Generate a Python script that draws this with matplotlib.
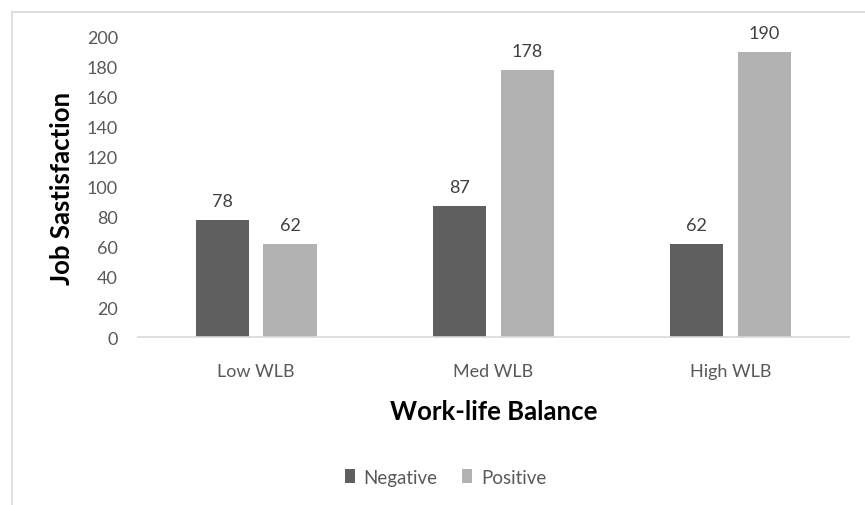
import numpy as np
import matplotlib.pyplot as plt
from matplotlib.lines import Line2D

plt.rcParams['font.family'] = ['Lato', 'DejaVu Sans']

# data
categories = ["Low WLB", "Med WLB", "High WLB"]
negative = [78, 87, 62]
positive = [62, 178, 190]
series_names = ["Negative", "Positive"]

dark = '#5f5f5f'
light = '#b2b2b2'
tick_col = '#595959'
edge_col = '#d9d9d9'

fig = plt.figure(figsize=(8.65, 5.06), dpi=100)
ax = fig.add_axes([0.159, 0.332, 0.8225, 0.593])

x = np.arange(len(categories))
w = 0.224
off = 0.143
b1 = ax.bar(x - off, negative, w, color=dark, label=series_names[0])
b2 = ax.bar(x + off, positive, w, color=light, label=series_names[1])

for bars in (b1, b2):
    ax.bar_label(bars, padding=8, fontsize=13, color='#404040')

ax.set_xlim(-0.5, len(categories) - 0.5)
ax.set_ylim(0, 200)
ax.set_yticks(np.arange(0, 201, 20))
ax.set_xticks(x)
ax.set_xticklabels(categories)
ax.tick_params(axis='both', length=0, labelsize=13, labelcolor=tick_col)
ax.tick_params(axis='x', pad=19)
ax.tick_params(axis='y', pad=14)

for s in ['top', 'right', 'left']:
    ax.spines[s].set_visible(False)
ax.spines['bottom'].set_color(edge_col)
ax.spines['bottom'].set_linewidth(1.2)

ax.set_ylabel("Job Sastisfaction", fontsize=18.5, fontweight='bold', color='black', labelpad=9)
ax.set_xlabel("Work-life Balance", fontsize=18.5, fontweight='bold', color='black', labelpad=14)

# legend centred on the chart area rather than the plot area
fig.legend(handles=[b1, b2], labels=series_names, loc='center',
           bbox_to_anchor=(0.515, 0.0553), ncol=2, frameon=False,
           fontsize=13.5, labelcolor=tick_col, handlelength=0.55, handleheight=0.8,
           handletextpad=0.45, columnspacing=1.3)

# chart area border (cropped at right and bottom)
fig.add_artist(Line2D([0.0139, 1.0], [0.974, 0.974], color=edge_col, lw=1.2))
fig.add_artist(Line2D([0.0139, 0.0139], [0.0, 0.974], color=edge_col, lw=1.2))

fig.savefig('out.png', dpi=100)
